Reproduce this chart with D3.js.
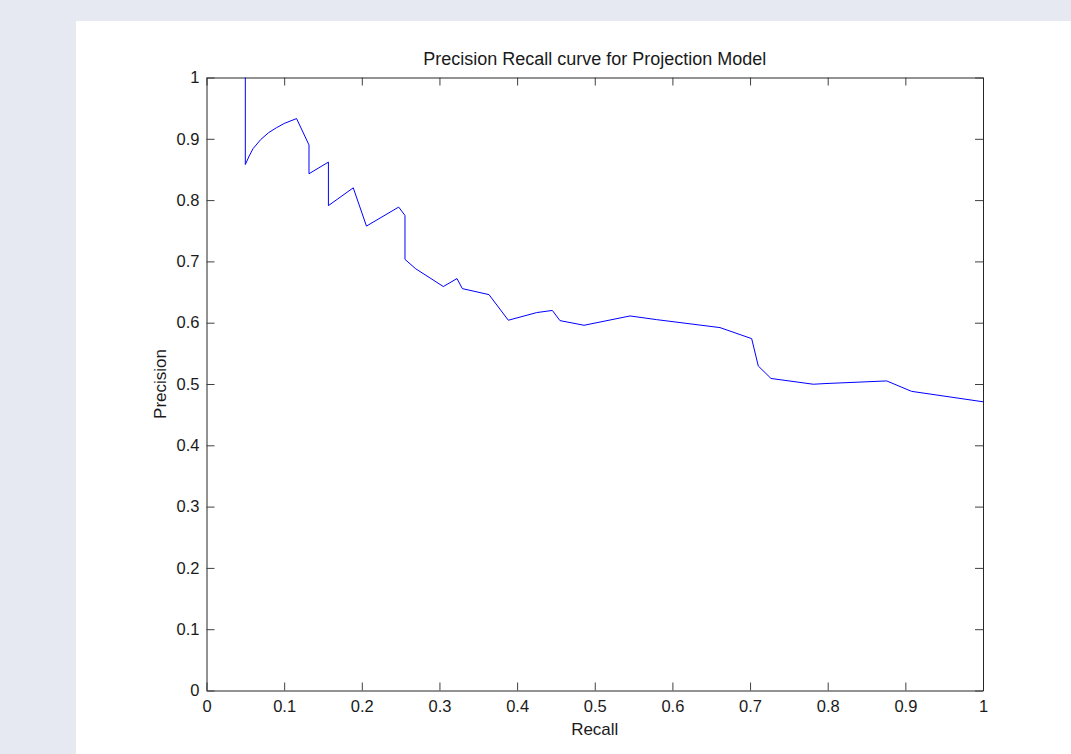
<!DOCTYPE html>
<html>
<head>
<meta charset="utf-8">
<script src="https://cdn.jsdelivr.net/npm/d3@7"></script>
<style>
  body { margin: 0; background: #e6e9f2; }
  svg { display: block; }
  text { font-family: "Liberation Sans", Arial, sans-serif; fill: #1a1a1a; }
</style>
</head>
<body>
<div id="chart"></div>
<script>
// recall / precision pairs
const recall = [0.05, 0.05, 0.055, 0.06, 0.07, 0.08, 0.09, 0.1, 0.116, 0.132, 0.132, 0.157, 0.157, 0.189,
  0.206, 0.2475, 0.2556, 0.2556, 0.2694, 0.305, 0.3226, 0.3295, 0.3638, 0.3887, 0.4252, 0.4454, 0.4552,
  0.4862, 0.5454, 0.5797, 0.6613, 0.7021, 0.7106, 0.727, 0.7815, 0.7965, 0.876, 0.908, 1.0];
const precision = [1.0, 0.858, 0.872, 0.884, 0.899, 0.91, 0.918, 0.925, 0.933, 0.89, 0.843, 0.862, 0.791, 0.82,
  0.7576, 0.7886, 0.775, 0.7033, 0.688, 0.659, 0.672, 0.6556, 0.6458, 0.604, 0.6165, 0.62, 0.6034,
  0.5958, 0.611, 0.605, 0.592, 0.574, 0.5294, 0.509, 0.4996, 0.5007, 0.505, 0.488, 0.471];
const xTicks = [0, 0.1, 0.2, 0.3, 0.4, 0.5, 0.6, 0.7, 0.8, 0.9, 1];
const yTicks = [0, 0.1, 0.2, 0.3, 0.4, 0.5, 0.6, 0.7, 0.8, 0.9, 1];

const width = 1071, height = 754;
const plotL = 206.5, plotR = 983, plotT = 77.5, plotB = 690.5;

const svg = d3.select("#chart").append("svg")
  .attr("width", width)
  .attr("height", height);

// white figure panel
svg.append("rect")
  .attr("x", 76).attr("y", 21)
  .attr("width", width - 76).attr("height", height - 21)
  .attr("fill", "#ffffff");

const x = d3.scaleLinear().domain([0, 1]).range([plotL, plotR]);
const y = d3.scaleLinear().domain([0, 1]).range([plotB, plotT]);

const fmt = d => d === 0 || d === 1 ? String(d) : d3.format(".1f")(d);

const styleAxis = g => {
  g.attr("font-family", null);
  g.select(".domain").attr("stroke", "#262626");
  g.selectAll(".tick line").attr("stroke", "#404040");
  g.selectAll(".tick text").style("font-size", "16.5px").attr("fill", "#1a1a1a");
};

svg.append("g")
  .attr("transform", `translate(0,${plotB})`)
  .call(d3.axisBottom(x).tickValues(xTicks).tickFormat(fmt).tickSize(-8).tickSizeOuter(0).tickPadding(10))
  .call(styleAxis);

svg.append("g")
  .attr("transform", `translate(0,${plotT})`)
  .call(d3.axisTop(x).tickValues(xTicks).tickFormat("").tickSize(-8).tickSizeOuter(0))
  .call(styleAxis);

svg.append("g")
  .attr("transform", `translate(${plotL},0)`)
  .call(d3.axisLeft(y).tickValues(yTicks).tickFormat(fmt).tickSize(-8).tickSizeOuter(0).tickPadding(7))
  .call(styleAxis);

svg.append("g")
  .attr("transform", `translate(${plotR},0)`)
  .call(d3.axisRight(y).tickValues(yTicks).tickFormat("").tickSize(-8).tickSizeOuter(0))
  .call(styleAxis);

const line = d3.line()
  .x((d, i) => x(recall[i]))
  .y(d => y(d));

svg.append("path")
  .datum(precision)
  .attr("d", line)
  .attr("fill", "none")
  .attr("stroke", "#0000ff")
  .attr("stroke-width", 1);

svg.append("text")
  .attr("x", (plotL + plotR) / 2)
  .attr("y", 65)
  .attr("text-anchor", "middle")
  .style("font-size", "18px")
  .text("Precision Recall curve for Projection Model");

svg.append("text")
  .attr("x", (plotL + plotR) / 2)
  .attr("y", 735)
  .attr("text-anchor", "middle")
  .style("font-size", "17px")
  .text("Recall");

svg.append("text")
  .attr("transform", `translate(166,${(plotT + plotB) / 2}) rotate(-90)`)
  .attr("text-anchor", "middle")
  .style("font-size", "17px")
  .text("Precision");
</script>
</body>
</html>
